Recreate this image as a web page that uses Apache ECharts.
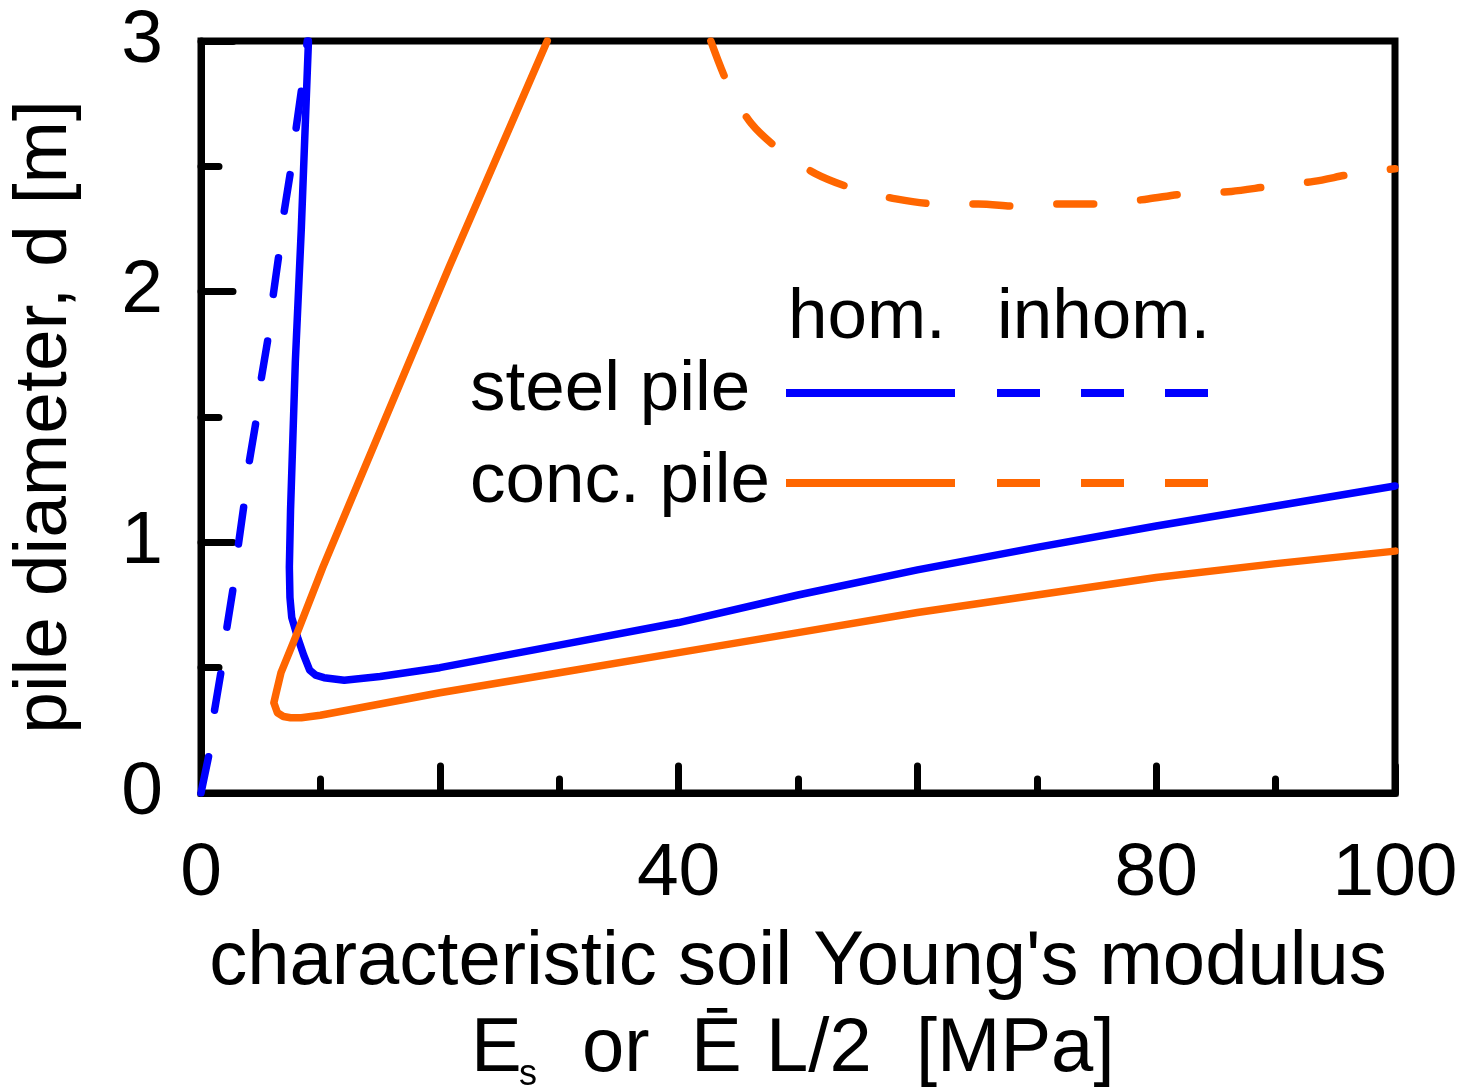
<!DOCTYPE html>
<html>
<head>
<meta charset="utf-8">
<script src="https://cdn.jsdelivr.net/npm/echarts@6/dist/echarts.min.js"></script>
<style>
  html, body { margin: 0; padding: 0; background: #fff; }
  #chart { width: 1466px; height: 1091px; }
</style>
</head>
<body>
<div id="chart"></div>
<script>
// Required pile diameter d [m] against characteristic soil Young's modulus [MPa]
// Each point is [E, d].
const steelHom = [
  [9.0, 3.0], [8.4, 2.25], [7.9, 1.72], [7.5, 1.13], [7.4, 0.90], [7.45, 0.78],
  [7.6, 0.70], [8.1, 0.62], [8.6, 0.55], [9.1, 0.49], [9.6, 0.47], [10.3, 0.46],
  [12.0, 0.45], [15, 0.465], [20, 0.50], [30, 0.59], [40, 0.68], [50, 0.79],
  [60, 0.89], [70, 0.98], [80, 1.065], [90, 1.145], [100, 1.225]
];
const steelInhom = [
  [0, 0], [0.7, 0.16], [1.1, 0.32], [1.7, 0.49], [2.1, 0.64], [2.7, 0.82],
  [3.1, 0.98], [3.6, 1.15], [4.0, 1.31], [4.6, 1.48], [5.0, 1.64], [5.6, 1.81],
  [6.0, 1.97], [6.5, 2.14], [6.9, 2.30], [7.5, 2.48], [7.9, 2.63], [8.4, 2.80],
  [8.9, 3.0]
];
const concHom = [
  [29.0, 3.0], [20.8, 2.1], [12.4, 1.15], [10.2, 0.90], [7.9, 0.62], [6.7, 0.48],
  [6.3, 0.40], [6.1, 0.36], [6.4, 0.32], [6.9, 0.305], [7.5, 0.30], [8.4, 0.30],
  [10, 0.31], [15, 0.355], [20, 0.40], [30, 0.48], [40, 0.56], [50, 0.64],
  [60, 0.72], [70, 0.79], [80, 0.86], [90, 0.915], [100, 0.965]
];
const concInhom = [
  [42.7, 3.0], [44.2, 2.82], [46.1, 2.67], [48.6, 2.56], [51.5, 2.47], [54.7, 2.41],
  [58.2, 2.37], [61.7, 2.35], [65.1, 2.35], [68.6, 2.34], [72.2, 2.35], [75.5, 2.35],
  [79.3, 2.37], [82.4, 2.39], [86.3, 2.40], [89.5, 2.42], [93.2, 2.44], [96.5, 2.47],
  [100, 2.49]
];
const xTickLabels = [0, 40, 80, 100];
const yTickLabels = [0, 1, 2, 3];
const legendRows = ['steel pile', 'conc. pile'];
const legendCols = ['hom.', 'inhom.'];

const BLUE = '#0000ff';
const ORANGE = '#ff6600';
const FONT = '"Liberation Sans", Arial, Helvetica, sans-serif';

const chart = echarts.init(document.getElementById('chart'), null, { renderer: 'canvas' });

function lineSeries(name, data, color, dashed, smooth) {
  return {
    name: name,
    type: 'line',
    data: data,
    showSymbol: false,
    symbol: 'none',
    smooth: smooth || false,
    animation: false,
    lineStyle: {
      color: color,
      width: 7.5,
      type: dashed ? [37, 47] : 'solid',
      cap: 'round',
      join: 'round'
    }
  };
}

const legendGraphics = [];
const LF = 71;
// column headers
legendGraphics.push({ type: 'text', x: 788, y: 318, style: { text: legendCols[0], fontSize: LF, fontFamily: FONT, fill: '#000', align: 'left', verticalAlign: 'middle' } });
legendGraphics.push({ type: 'text', x: 997, y: 318, style: { text: legendCols[1], fontSize: LF, fontFamily: FONT, fill: '#000', align: 'left', verticalAlign: 'middle' } });
// rows
[[legendRows[0], BLUE, 393, 390], [legendRows[1], ORANGE, 483, 482]].forEach(function (r) {
  legendGraphics.push({ type: 'text', x: 470, y: r[3], style: { text: r[0], fontSize: LF, fontFamily: FONT, fill: '#000', align: 'left', verticalAlign: 'middle' } });
  legendGraphics.push({ type: 'line', shape: { x1: 786, y1: r[2], x2: 955, y2: r[2] }, style: { stroke: r[1], lineWidth: 8 } });
  legendGraphics.push({ type: 'line', shape: { x1: 997, y1: r[2], x2: 1208, y2: r[2] }, style: { stroke: r[1], lineWidth: 8, lineDash: [43, 41] } });
});

// second line of the x axis title: E_s or Ē L/2 [MPa]
const titleY = 1050;
const titleGraphics = [
  { type: 'text', x: 471, y: titleY, style: { text: 'E', fontSize: 76, fontFamily: FONT, fill: '#000', align: 'left', verticalAlign: 'middle' } },
  { type: 'text', x: 519, y: 1075, style: { text: 's', fontSize: 36, fontFamily: FONT, fill: '#000', align: 'left', verticalAlign: 'middle' } },
  { type: 'text', x: 582, y: titleY, style: { text: 'or', fontSize: 76, fontFamily: FONT, fill: '#000', align: 'left', verticalAlign: 'middle' } },
  { type: 'text', x: 691, y: titleY, style: { text: 'Ē', fontSize: 76, fontFamily: FONT, fill: '#000', align: 'left', verticalAlign: 'middle' } },
  { type: 'text', x: 766, y: titleY, style: { text: 'L/2', fontSize: 76, fontFamily: FONT, fill: '#000', align: 'left', verticalAlign: 'middle' } },
  { type: 'text', x: 916, y: titleY, style: { text: '[MPa]', fontSize: 76, fontFamily: FONT, fill: '#000', align: 'left', verticalAlign: 'middle' } }
];

const option = {
  backgroundColor: '#ffffff',
  animation: false,
  grid: {
    left: 200, right: 71, top: 41, bottom: 298,
    show: true, borderColor: '#000', borderWidth: 7, backgroundColor: 'transparent'
  },
  xAxis: {
    type: 'value', min: 0, max: 100, interval: 20,
    name: "characteristic soil Young's modulus",
    nameLocation: 'middle', nameGap: 132,
    nameTextStyle: { fontSize: 76, fontFamily: FONT, color: '#000' },
    axisLine: { show: true, lineStyle: { color: '#000', width: 7 } },
    axisTick: { show: true, inside: true, length: 27, lineStyle: { color: '#000', width: 7, cap: 'round' } },
    minorTick: { show: true, splitNumber: 2, length: 14, lineStyle: { color: '#000', width: 7, cap: 'round' } },
    splitLine: { show: false },
    axisLabel: {
      fontSize: 75, fontFamily: FONT, color: '#000', margin: 44,
      formatter: function (v) { return xTickLabels.indexOf(v) >= 0 ? String(v) : ''; }
    }
  },
  yAxis: {
    type: 'value', min: 0, max: 3, interval: 1,
    name: 'pile diameter, d [m]',
    nameLocation: 'middle', nameGap: 118,
    nameTextStyle: { fontSize: 75, fontFamily: FONT, color: '#000' },
    axisLine: { show: true, lineStyle: { color: '#000', width: 7 } },
    axisTick: { show: true, inside: true, length: 32, lineStyle: { color: '#000', width: 7, cap: 'round' } },
    minorTick: { show: true, splitNumber: 2, length: 18, lineStyle: { color: '#000', width: 7, cap: 'round' } },
    splitLine: { show: false },
    axisLabel: {
      fontSize: 75, fontFamily: FONT, color: '#000', margin: 38,
      formatter: function (v) { return yTickLabels.indexOf(v) >= 0 ? String(v) : ''; }
    }
  },
  series: [
    lineSeries('steel pile, inhom.', steelInhom, BLUE, true, false),
    lineSeries('steel pile, hom.', steelHom, BLUE, false, false),
    lineSeries('conc. pile, hom.', concHom, ORANGE, false, false),
    lineSeries('conc. pile, inhom.', concInhom, ORANGE, true, 0.3)
  ],
  graphic: legendGraphics.concat(titleGraphics)
};

chart.setOption(option);
</script>
</body>
</html>
